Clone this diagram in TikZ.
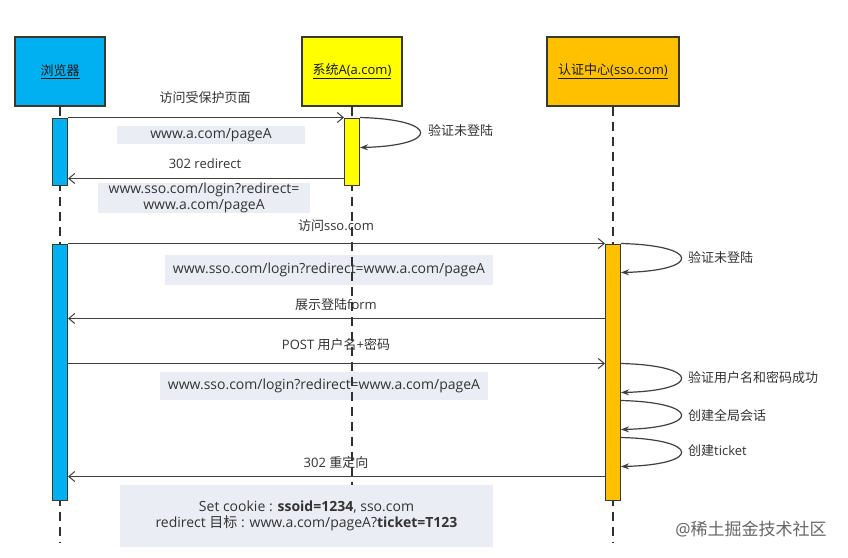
\documentclass[tikz,border=0pt]{standalone}
\usepackage{fontspec}
\setmainfont{Open Sans}
\newfontfamily\cjk{Noto Sans CJK SC}
\usetikzlibrary{arrows.meta}
\definecolor{blueC}{HTML}{00B0F0}
\definecolor{yellowC}{HTML}{FFFF00}
\definecolor{orangeC}{HTML}{FFC000}
\definecolor{bordC}{HTML}{3A3A2A}
\definecolor{lineC}{HTML}{404040}
\definecolor{lifeC}{HTML}{303030}
\definecolor{grayC}{HTML}{EAEEF4}
\definecolor{txtC}{HTML}{333333}
\definecolor{hdrT}{HTML}{1A1A1A}
\definecolor{wmC}{HTML}{666666}
\begin{document}
\begin{tikzpicture}[x=1pt,y=-1pt,
  hdr/.style={draw=bordC, line width=1.4pt, minimum height=69pt, inner sep=0pt, font=\fontsize{13}{16}\selectfont, text=hdrT},
  bar/.style={draw=bordC, line width=1pt, minimum width=15pt, inner sep=0pt},
  life/.style={draw=lifeC, line width=1.2pt, dash pattern=on 9pt off 6pt},
  msg/.style={draw=lineC, line width=1pt, -{Straight Barb[length=6pt,width=10pt,line width=1pt]}},
  selfloop/.style={draw=lineC, line width=1.2pt, -{Stealth[length=8pt,width=6pt]}},
  lbl/.style={font=\fontsize{13}{16}\selectfont, text=txtC, inner sep=0pt},
  gbox/.style={fill=grayC, inner sep=0pt, font=\fontsize{14}{16.5}\selectfont, text=txtC, align=center},
]
\useasboundingbox[fill=white] (0,0) rectangle (848,557);

% gray parameter boxes
\node[gbox, minimum width=188pt, minimum height=18pt] (g1) at (211,135) {www.a.com/pageA};
\node[gbox, minimum width=212pt, minimum height=28pt] (g2) at (204,198) {www.sso.com/login?redirect=\\www.a.com/pageA};
\node[gbox, minimum width=328pt, minimum height=30pt] (g3) at (329,270) {www.sso.com/login?redirect=www.a.com/pageA};
\node[gbox, minimum width=328pt, minimum height=28pt] (g4) at (324,386) {www.sso.com/login?redirect=www.a.com/pageA};
\node[gbox, minimum width=373pt, minimum height=62pt] (g5) at (306.5,516) {Set cookie : \textbf{ssoid=1234}, sso.com\\redirect {\cjk 目标} : www.a.com/pageA?\textbf{ticket=T123}};

% headers
\node[hdr, fill=blueC, minimum width=90pt] (hb) at (60,71.5) {\underline{\cjk 浏览器}};
\node[hdr, fill=yellowC, minimum width=100pt] (ha) at (352,71.5) {\underline{{\cjk 系统}A(a.com)}};
\node[hdr, fill=orangeC, minimum width=132pt] (hs) at (613,71.5) {\underline{{\cjk 认证中心}(sso.com)}};

% lifelines
\coordinate (eb) at (60,543);
\coordinate (ea) at (352,485);
\coordinate (es) at (613,543);
\draw[life] (hb.south) -- (eb);
\draw[life] (ha.south) -- (ea);
\draw[life] (hs.south) -- (es);

% activation bars
\node[bar, fill=blueC, minimum height=67pt] (b1) at (60,151.5) {};
\node[bar, fill=yellowC, minimum height=67pt] (a1) at (352,151.5) {};
\node[bar, fill=blueC, minimum height=256pt] (b2) at (60,372) {};
\node[bar, fill=orangeC, minimum height=256pt] (s1) at (613,372) {};

% messages
\draw[msg] (b1.north east) -- (a1.north west);
\draw[msg] ([yshift=7pt]a1.south west) -- ([yshift=7pt]b1.south east);
\draw[msg] (b2.north east) -- (s1.north west);
\draw[msg] ([yshift=-75pt]s1.north west) -- ([yshift=-75pt]b2.north east);
\draw[msg] ([yshift=-120pt]b2.north east) -- ([yshift=-120pt]s1.north west);
\draw[msg] ([yshift=24pt]s1.south west) -- ([yshift=24pt]b2.south east);

% self loops
\draw[selfloop] (a1.north east) .. controls +(80,2) and +(80,-2) .. ([yshift=-30pt]a1.north east);
\draw[selfloop] (s1.north east) .. controls +(80,2) and +(80,-2) .. ([yshift=-29pt]s1.north east);
\draw[selfloop] ([yshift=-120pt]s1.north east) .. controls +(80,2) and +(80,-2) .. ([yshift=-149pt]s1.north east);
\draw[selfloop] ([yshift=-157pt]s1.north east) .. controls +(80,2) and +(80,-2) .. ([yshift=-186pt]s1.north east);
\draw[selfloop] ([yshift=-194pt]s1.north east) .. controls +(80,2) and +(80,-2) .. ([yshift=-223pt]s1.north east);

% labels
\node[lbl] (l1) at (205,98) {\cjk 访问受保护页面};
\node[lbl, anchor=west] (l2) at (428,131) {\cjk 验证未登陆};
\node[lbl] (l3) at (205,164) {302 redirect};
\node[lbl] (l4) at (336,226) {{\cjk 访问}sso.com};
\node[lbl, anchor=west] (l5) at (688,258) {\cjk 验证未登陆};
\node[lbl] (l6) at (336,305) {{\cjk 展示登陆}form};
\node[lbl] (l7) at (336,345) {POST {\cjk 用户名}+{\cjk 密码}};
\node[lbl, anchor=west] (l8) at (688,378) {\cjk 验证用户名和密码成功};
\node[lbl, anchor=west] (l9) at (688,415) {\cjk 创建全局会话};
\node[lbl, anchor=west] (l10) at (688,451) {{\cjk 创建}ticket};
\node[lbl] (l11) at (336,463) {302 {\cjk 重定向}};

% watermark
\node[font=\fontsize{17}{20}\selectfont, text=wmC, inner sep=0pt] (wm) at (751,529) {@{\cjk 稀土掘金技术社区}};
\end{tikzpicture}
\end{document}
